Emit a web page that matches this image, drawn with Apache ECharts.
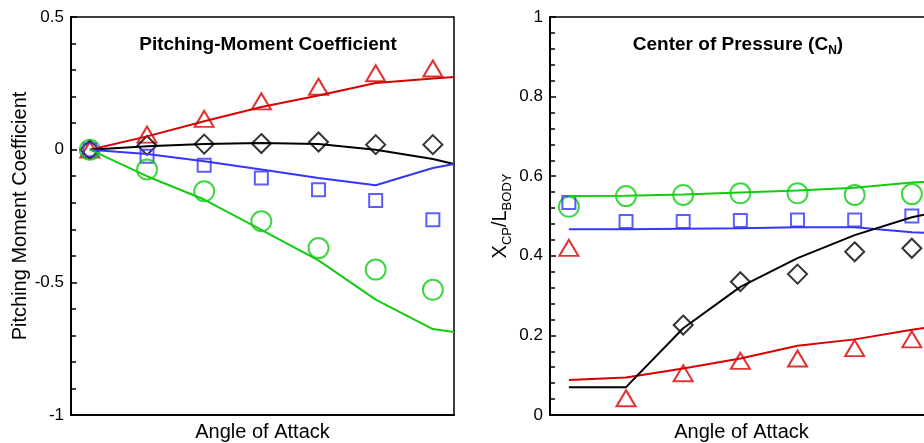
<!DOCTYPE html>
<html>
<head>
<meta charset="utf-8">
<script src="https://cdn.jsdelivr.net/npm/echarts@6/dist/echarts.min.js"></script>
<style>
  html, body { margin: 0; padding: 0; background: #fff; }
  #chart { width: 924px; height: 443px; }
</style>
</head>
<body>
<div id="chart"></div>
<script>
// angle of attack positions (axis has no labels, just evenly spaced cases)
const markX = [0, 1, 2, 3, 4, 5, 6]
const lineX = [0, 1, 2, 3, 4, 5, 6, 6.37]

// pitching-moment coefficient
const pmRedLine = [0, 0.05, 0.107, 0.161, 0.204, 0.251, 0.268, 0.274]
const pmRedPts = [0, 0.057, 0.116, 0.182, 0.237, 0.288, 0.306]
const pmBlackLine = [0, 0.013, 0.021, 0.025, 0.021, 0.0, -0.035, -0.054]
const pmBlackPts = [0, 0.016, 0.021, 0.023, 0.029, 0.019, 0.019]
const pmBlueLine = [0, -0.016, -0.044, -0.075, -0.107, -0.134, -0.069, -0.054]
const pmBluePts = [0, -0.025, -0.059, -0.107, -0.151, -0.192, -0.264]
const pmGreenLine = [0, -0.1, -0.188, -0.302, -0.417, -0.565, -0.676, -0.687]
const pmGreenPts = [0, -0.075, -0.157, -0.27, -0.371, -0.452, -0.528]

// center of pressure Xcp/Lbody
const cpGreenLine = [0.55, 0.551, 0.554, 0.559, 0.564, 0.571, 0.584, 0.586]
const cpGreenPts = [0.523, 0.55, 0.553, 0.557, 0.557, 0.553, 0.555]
const cpBlueLine = [0.467, 0.467, 0.468, 0.469, 0.472, 0.472, 0.459, 0.457]
const cpBluePts = [0.534, 0.486, 0.486, 0.489, 0.49, 0.49, 0.5]
const cpRedLine = [0.088, 0.094, 0.117, 0.142, 0.174, 0.19, 0.214, 0.222]
const cpRedPts = [0.42, 0.042, 0.105, 0.136, 0.142, 0.168, 0.19]
const cpBlackLine = [0.07, 0.07, 0.218, 0.322, 0.394, 0.452, 0.497, 0.508]
const cpBlackPts = [null, null, 0.226, 0.335, 0.354, 0.41, 0.419]

const RED = '#d80000'
const GREEN = '#11cc11'
const BLUE = '#3535ff'
const BLACK = '#000'
const FONT = '"Liberation Sans", Arial, sans-serif'

const pairs = (xs, ys) => ys.map((y, i) => (y === null ? null : [xs[i], y])).filter(p => p)

function lineSeries(idx, ys, color) {
  return {
    type: 'line',
    xAxisIndex: idx,
    yAxisIndex: idx,
    data: pairs(lineX, ys),
    symbol: 'none',
    lineStyle: { color: color, width: 2 },
    silent: true
  }
}

function markSeries(idx, ys, color, symbol, size) {
  return {
    type: 'scatter',
    xAxisIndex: idx,
    yAxisIndex: idx,
    data: pairs(markX, ys),
    symbol: symbol,
    symbolSize: size,
    itemStyle: { color: 'rgba(0,0,0,0)', borderColor: color, borderWidth: 2 },
    silent: true
  }
}

function xAxisOf(idx) {
  return {
    type: 'value',
    gridIndex: idx,
    min: -0.33,
    max: 6.37,
    axisLine: { show: true, onZero: false, lineStyle: { color: '#000', width: 2 } },
    axisTick: { show: false },
    axisLabel: { show: false },
    splitLine: { show: false },
    name: 'Angle of Attack',
    nameLocation: 'middle',
    nameGap: 7,
    nameTextStyle: { fontSize: 20, color: '#000', fontFamily: FONT }
  }
}

function yAxisOf(idx, min, max, interval, name, gap, rich) {
  return {
    type: 'value',
    gridIndex: idx,
    min: min,
    max: max,
    interval: interval,
    axisLine: { show: true, onZero: false, lineStyle: { color: '#000', width: 2 } },
    axisTick: { show: true, inside: true, length: 6, lineStyle: { color: '#000', width: 1.5 } },
    minorTick: { show: true, splitNumber: 5, length: 5, lineStyle: { color: '#000', width: 1.5 } },
    axisLabel: { fontSize: 17, color: '#000', margin: 7, fontFamily: FONT },
    splitLine: { show: false },
    name: name,
    nameLocation: 'middle',
    nameGap: gap,
    nameTextStyle: { fontSize: 20, color: '#000', fontFamily: FONT, rich: rich }
  }
}

const chart = echarts.init(document.getElementById('chart'))
chart.setOption({
  animation: false,
  backgroundColor: '#fff',
  title: [
    {
      text: 'Pitching-Moment Coefficient',
      left: 268,
      top: 35,
      padding: 0,
      textAlign: 'center',
      textStyle: { fontSize: 19, fontWeight: 'bold', color: '#000', fontFamily: FONT }
    },
    {
      text: '{t|Center of Pressure (C}{s|N}{t|)}',
      left: 738,
      top: 35,
      padding: 0,
      textAlign: 'center',
      textStyle: {
        fontFamily: FONT,
        rich: {
          t: { fontSize: 19, fontWeight: 'bold', color: '#000', fontFamily: FONT, verticalAlign: 'bottom', padding: [0, 0, 3, 0] },
          s: { fontSize: 12, fontWeight: 'bold', color: '#000', fontFamily: FONT, verticalAlign: 'bottom' }
        }
      }
    }
  ],
  grid: [
    { left: 71, top: 17, width: 383, height: 398, show: true, borderColor: '#000', borderWidth: 1.5, containLabel: false, outerBoundsMode: 'none' },
    { left: 550, top: 17, width: 383, height: 398, show: true, borderColor: '#000', borderWidth: 1.5, containLabel: false, outerBoundsMode: 'none' }
  ],
  xAxis: [xAxisOf(0), xAxisOf(1)],
  yAxis: [
    yAxisOf(0, -1, 0.5, 0.5, 'Pitching Moment Coefficient', 37),
    yAxisOf(1, 0, 1, 0.2, '{x|X}{s|CP}{x|/L}{s|BODY}', 36, {
      x: { fontSize: 20, color: '#000', fontFamily: FONT, verticalAlign: 'bottom', padding: [0, 0, 4, 0] },
      s: { fontSize: 13, color: '#000', fontFamily: FONT, verticalAlign: 'bottom' }
    })
  ],
  series: [
    lineSeries(0, pmRedLine, RED),
    lineSeries(0, pmBlackLine, BLACK),
    lineSeries(0, pmBlueLine, BLUE),
    lineSeries(0, pmGreenLine, GREEN),
    markSeries(0, pmRedPts, RED, 'triangle', [19, 16]),
    markSeries(0, pmBlackPts, BLACK, 'diamond', [19, 19]),
    markSeries(0, pmBluePts, BLUE, 'rect', [13, 13]),
    markSeries(0, pmGreenPts, GREEN, 'circle', 20),
    lineSeries(1, cpGreenLine, GREEN),
    lineSeries(1, cpBlueLine, BLUE),
    lineSeries(1, cpRedLine, RED),
    lineSeries(1, cpBlackLine, BLACK),
    markSeries(1, cpGreenPts, GREEN, 'circle', 20),
    markSeries(1, cpBluePts, BLUE, 'rect', [13, 13]),
    markSeries(1, cpRedPts, RED, 'triangle', [19, 16]),
    markSeries(1, cpBlackPts, BLACK, 'diamond', [19, 19])
  ]
})
</script>
</body>
</html>
